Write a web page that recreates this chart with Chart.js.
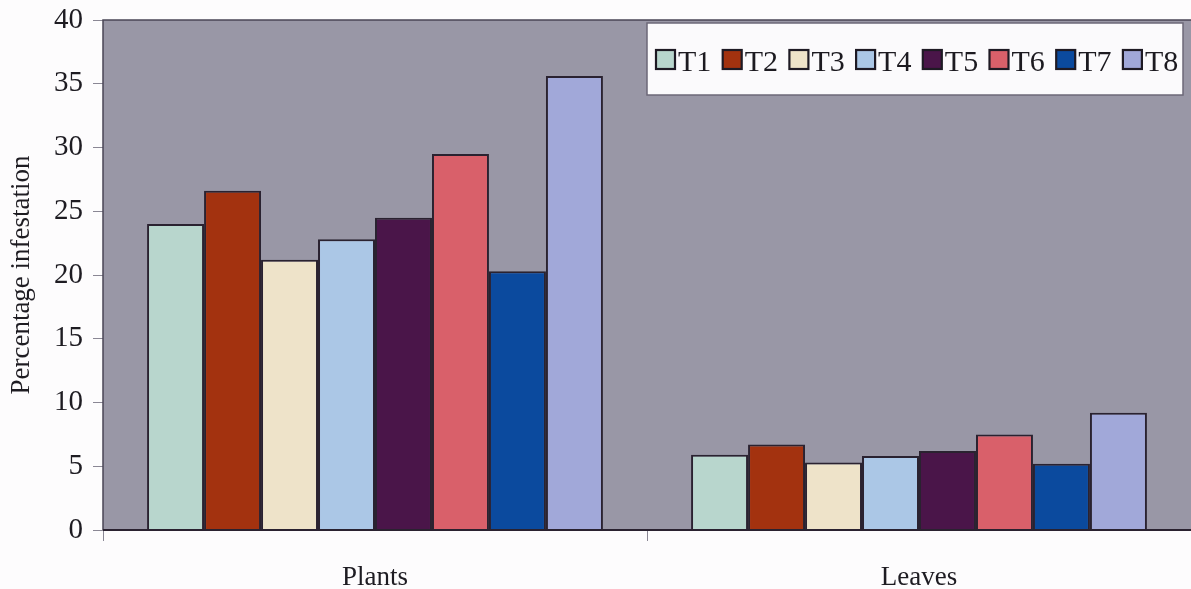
<!DOCTYPE html>
<html>
<head>
<meta charset="utf-8">
<script src="https://cdn.jsdelivr.net/npm/chart.js@4/dist/chart.umd.min.js"></script>
<style>
  html, body { margin: 0; padding: 0; background: #fdfcfd; }
  #wrap { width: 1191px; height: 589px; position: relative; }
</style>
</head>
<body>
<div id="wrap"><canvas id="c" width="1191" height="589"></canvas></div>
<script>
// Infestation by treatment, for whole plants and for leaves
const categories = ['Plants', 'Leaves'];
const treatments = ['T1', 'T2', 'T3', 'T4', 'T5', 'T6', 'T7', 'T8'];
const plantsValues = [24.0, 26.6, 21.2, 22.8, 24.5, 29.5, 20.3, 35.6];
const leavesValues = [5.9, 6.7, 5.3, 5.8, 6.2, 7.5, 5.2, 9.2];
const yTicks = [0, 5, 10, 15, 20, 25, 30, 35, 40];

const fills = ['#b8d6cd', '#a3320f', '#eee3c9', '#abc7e6', '#4a1549', '#d9606a', '#0b4a9e', '#a1a8d9'];
const serif = '"Liberation Serif", "DejaVu Serif", serif';

const datasets = treatments.map((t, i) => ({
  label: t,
  data: [plantsValues[i], leavesValues[i]],
  backgroundColor: fills[i],
  borderColor: '#2a2230',
  borderWidth: 2,
  borderSkipped: 'start',
  categoryPercentage: 0.838,
  barPercentage: 1.0
}));

// grey plot panel with a thin frame
const panel = {
  id: 'panel',
  beforeDatasetsDraw(chart) {
    const { ctx, chartArea: a } = chart;
    ctx.save();
    ctx.fillStyle = '#9997a6';
    ctx.fillRect(a.left, a.top, a.right - a.left, a.bottom - a.top);
    ctx.strokeStyle = '#4a4656';
    ctx.lineWidth = 1.5;
    ctx.beginPath();
    ctx.moveTo(a.left, a.bottom);
    ctx.lineTo(a.left, a.top);
    ctx.lineTo(a.right, a.top);
    ctx.stroke();
    ctx.restore();
  },
  afterDatasetsDraw(chart) {
    const { ctx, chartArea: a } = chart;
    ctx.save();
    ctx.strokeStyle = '#2a2230';
    ctx.lineWidth = 2;
    ctx.beginPath();
    ctx.moveTo(a.left, a.bottom);
    ctx.lineTo(a.right, a.bottom);
    ctx.stroke();
    ctx.restore();
  }
};

// boxed legend row placed inside the upper right of the panel
const boxedLegend = {
  id: 'boxedLegend',
  afterDraw(chart) {
    const { ctx } = chart;
    const x0 = 647, y0 = 23, w = 536, h = 72;
    ctx.save();
    ctx.fillStyle = '#fbfafc';
    ctx.fillRect(x0, y0, w, h);
    ctx.strokeStyle = '#6c6878';
    ctx.lineWidth = 1.5;
    ctx.strokeRect(x0, y0, w, h);
    ctx.font = '30px ' + serif;
    ctx.textBaseline = 'alphabetic';
    chart.data.datasets.forEach((ds, i) => {
      const bx = 656 + i * 66.7;
      ctx.fillStyle = ds.backgroundColor;
      ctx.fillRect(bx, 50, 19, 19);
      ctx.strokeStyle = '#1e1a24';
      ctx.lineWidth = 2.2;
      ctx.strokeRect(bx, 50, 19, 19);
      ctx.fillStyle = '#1c1a20';
      ctx.fillText(ds.label, bx + 22, 71);
    });
    ctx.restore();
  }
};

new Chart(document.getElementById('c'), {
  type: 'bar',
  data: { labels: categories, datasets },
  options: {
    responsive: false,
    animation: false,
    layout: { padding: { top: 20, right: 0, left: 0, bottom: 0 } },
    plugins: {
      legend: { display: false },
      tooltip: { enabled: false }
    },
    scales: {
      x: {
        grid: {
          offset: true,
          drawOnChartArea: false,
          drawTicks: true,
          tickLength: 11,
          color: '#8a8794',
          lineWidth: 1
        },
        border: { display: false },
        ticks: {
          font: { family: serif, size: 27 },
          color: '#1e1c22',
          padding: 21
        },
        afterFit(s) { s.height = 59; }
      },
      y: {
        min: 0,
        max: 40,
        afterBuildTicks(s) { s.ticks = yTicks.map(v => ({ value: v })); },
        grid: {
          drawOnChartArea: false,
          drawTicks: true,
          tickLength: 10,
          color: '#8a8794'
        },
        border: { display: false },
        ticks: {
          font: { family: serif, size: 29, lineHeight: 0.6 },
          color: '#1e1c22',
          padding: 10
        },
        title: {
          display: true,
          text: 'Percentage infestation',
          font: { family: serif, size: 27 },
          color: '#1e1c22',
          padding: { top: 6, bottom: 0 }
        },
        afterFit(s) { s.width = 103; }
      }
    }
  },
  plugins: [panel, boxedLegend]
});
</script>
</body>
</html>
